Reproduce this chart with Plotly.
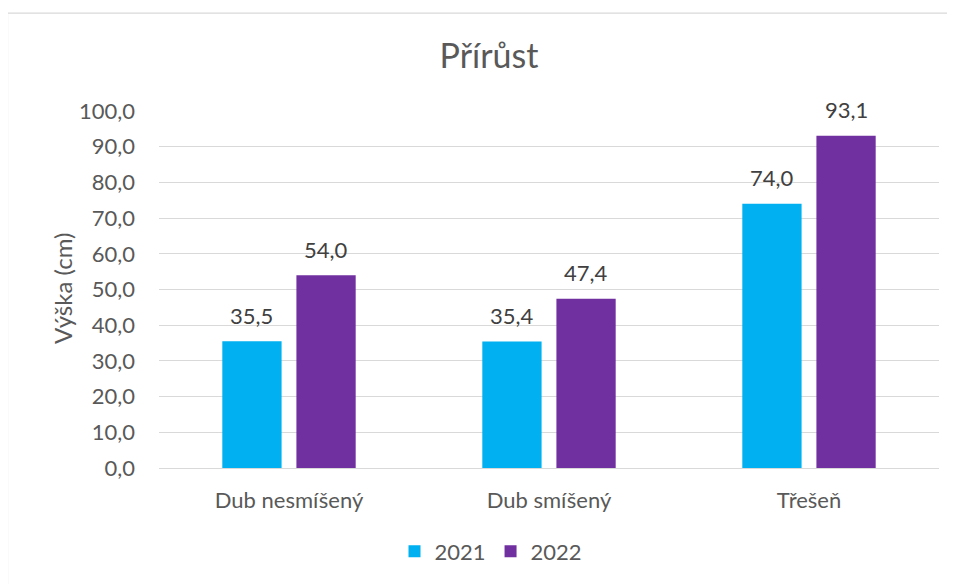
import plotly.graph_objects as go

categories = ["Dub nesmíšený", "Dub smíšený", "Třešeň"]
values_2021 = [35.5, 35.4, 74.0]
values_2022 = [54.0, 47.4, 93.1]
series_names = ["2021", "2022"]
series_colors = ["#00B0F0", "#7030A0"]
y_ticks = [0, 10, 20, 30, 40, 50, 60, 70, 80, 90, 100]

FONT = "Lato, Carlito, Calibri, sans-serif"
OFF = 8  # default body margin of the page
W, H = 955 - OFF, 584 - OFF
# plot area in screen pixels: x 159..939, y 111..470
L = 159 - OFF
T = 111 - OFF
R = W - (939 - OFF)
B = H - (470 - OFF)
pw, ph = W - L - R, H - T - B

def px_x(px):
    return (px - OFF - L) / pw

def px_y(py):
    return (H - B - (py - OFF)) / ph

fig = go.Figure()
for name, vals, color in zip(series_names, [values_2021, values_2022], series_colors):
    fig.add_trace(go.Bar(
        x=categories, y=vals, name=name, marker_color=color,
        marker_line_width=0,
    ))

# data labels above bars
slot = pw / len(categories) * (1 - 0.43) / 2
for i, vals in enumerate([values_2021, values_2022]):
    shift = (i - 0.5) * slot
    for c, v in zip(categories, vals):
        fig.add_annotation(x=c, y=v, xref="x", yref="y",
                           text=f"{v:.1f}".replace(".", ","),
                           showarrow=False, xshift=shift, yshift=26,
                           xanchor="center", yanchor="middle",
                           font=dict(family=FONT, size=22, color="#404040"))

fig.update_layout(
    width=W, height=H,
    margin=dict(l=L, r=R, t=T, b=B),
    paper_bgcolor="white", plot_bgcolor="white",
    separators=", ",
    barmode="group", bargap=0.43, bargroupgap=0.2,
    title=dict(text="Přírůst", x=(489 - OFF) / W, xanchor="center",
               y=1 - (56 - OFF) / H, yanchor="middle", yref="container",
               font=dict(family=FONT, size=34, color="#595959")),
    font=dict(family=FONT, color="#595959", size=22),
    showlegend=True,
    legend=dict(orientation="h", x=px_x(491), xanchor="center",
                y=px_y(554), yanchor="middle",
                font=dict(family=FONT, size=22, color="#595959"),
                traceorder="normal"),
)
fig.update_xaxes(showgrid=False, showline=False, ticks="",
                 tickfont=dict(family=FONT, size=22, color="#595959"),
                 ticklabelstandoff=17)
fig.update_yaxes(range=[0, 100], tickvals=y_ticks, tickformat=".1f",
                 showgrid=True, gridcolor="#D9D9D9", gridwidth=1.3,
                 zeroline=True, zerolinecolor="#D9D9D9", zerolinewidth=1.3,
                 showline=False, ticks="",
                 tickfont=dict(family=FONT, size=22, color="#595959"),
                 ticklabelstandoff=23)

fig.add_annotation(text="Výška (cm)", xref="paper", yref="paper",
                   x=px_x(62), y=px_y(290), textangle=-90,
                   showarrow=False, xanchor="center", yanchor="middle",
                   font=dict(family=FONT, size=24, color="#595959"))

fig.add_shape(type="rect", xref="paper", yref="paper",
              x0=px_x(7.5), x1=px_x(953.5), y0=px_y(600), y1=px_y(12.5),
              line=dict(color="#D9D9D9", width=1.3), layer="below")

fig.write_html("out.html")
